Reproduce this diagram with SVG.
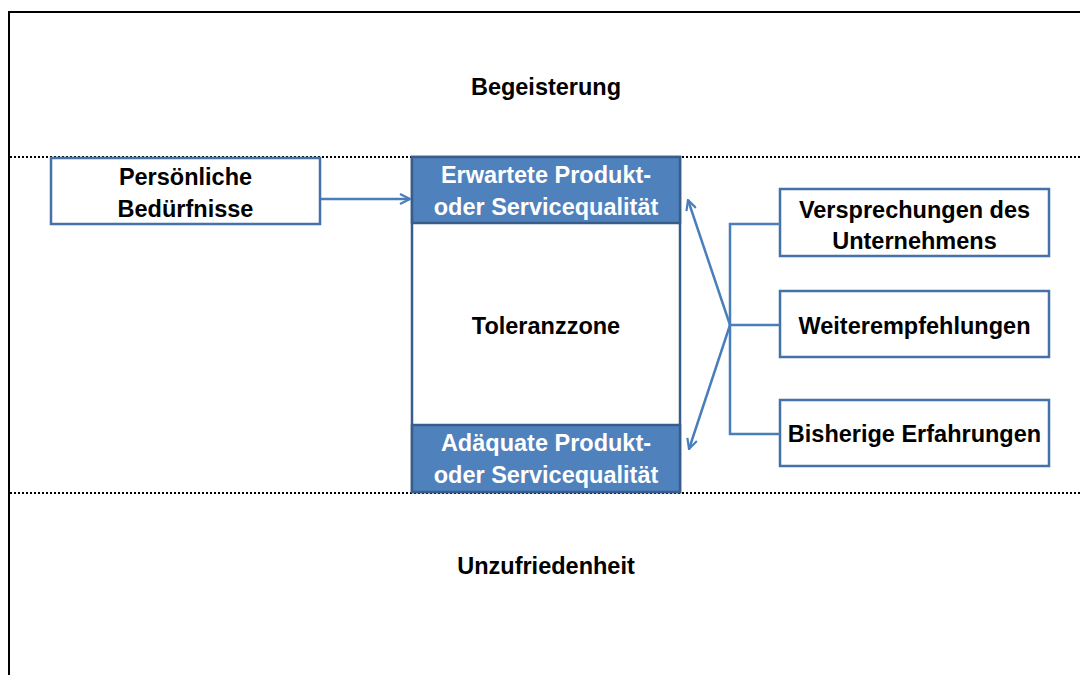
<svg xmlns="http://www.w3.org/2000/svg" width="1080" height="675" viewBox="0 0 1080 675">
<defs>
<style>
.t{font-family:"Liberation Sans",Arial,sans-serif;font-weight:bold;font-size:23.5px;text-anchor:middle;fill:#000}
.w{fill:#fff}
.box{fill:#fff;stroke:#4670A8;stroke-width:2.5}
.band{fill:#4F81BD;stroke:#385D8A;stroke-width:2.5}
.dot{stroke:#000;stroke-width:2;stroke-dasharray:2 2;fill:none}
.con{stroke:#4A7EBB;stroke-width:2.5;fill:none}
</style>
<marker id="ah" viewBox="0 0 12 12" refX="11" refY="6" markerWidth="12" markerHeight="12" markerUnits="userSpaceOnUse" orient="auto">
<path d="M1,1 L11,6 L1,11" fill="none" stroke="#4A7EBB" stroke-width="2.2"/>
</marker>
</defs>
<rect width="1080" height="675" fill="#fff"/>
<rect x="9" y="12" width="1100" height="700" fill="none" stroke="#000" stroke-width="2"/>
<line class="dot" x1="10" y1="157" x2="1080" y2="157"/>
<line class="dot" x1="10" y1="493" x2="1080" y2="493"/>
<g id="zone-begeisterung"><text class="t" x="546" y="95">Begeisterung</text></g>
<g id="zone-unzufriedenheit"><text class="t" x="546" y="574">Unzufriedenheit</text></g>
<g id="toleranzzone">
<rect class="box" x="412" y="157" width="268" height="335" style="stroke:#385D8A"/>
<text class="t" x="546" y="334">Toleranzzone</text>
</g>
<g id="erwartete">
<rect class="band" x="412" y="157" width="268" height="66"/>
<text class="t w" x="546" y="183">Erwartete Produkt-</text>
<text class="t w" x="546" y="215">oder Servicequalität</text>
</g>
<g id="adaequate">
<rect class="band" x="412" y="425" width="268" height="67"/>
<text class="t w" x="546" y="451">Adäquate Produkt-</text>
<text class="t w" x="546" y="483">oder Servicequalität</text>
</g>
<g id="persoenliche">
<rect class="box" x="51" y="158" width="269" height="66"/>
<text class="t" x="185.5" y="185">Persönliche</text>
<text class="t" x="185.5" y="217">Bedürfnisse</text>
</g>
<g id="versprechungen">
<rect class="box" x="780" y="189" width="269" height="67"/>
<text class="t" x="914.5" y="218">Versprechungen des</text>
<text class="t" x="914.5" y="249">Unternehmens</text>
</g>
<g id="weiterempfehlungen">
<rect class="box" x="780" y="291" width="269" height="66"/>
<text class="t" x="914.5" y="334">Weiterempfehlungen</text>
</g>
<g id="erfahrungen">
<rect class="box" x="780" y="400" width="269" height="66"/>
<text class="t" x="914.5" y="442">Bisherige Erfahrungen</text>
</g>
<g id="connectors">
<line class="con" x1="321" y1="199" x2="410" y2="199" marker-end="url(#ah)"/>
<path class="con" d="M780,224 H730 V434 H780 M730,325 H780"/>
<line class="con" x1="730" y1="325" x2="688" y2="200" marker-end="url(#ah)"/>
<line class="con" x1="730" y1="325" x2="689" y2="449" marker-end="url(#ah)"/>
</g>
</svg>
